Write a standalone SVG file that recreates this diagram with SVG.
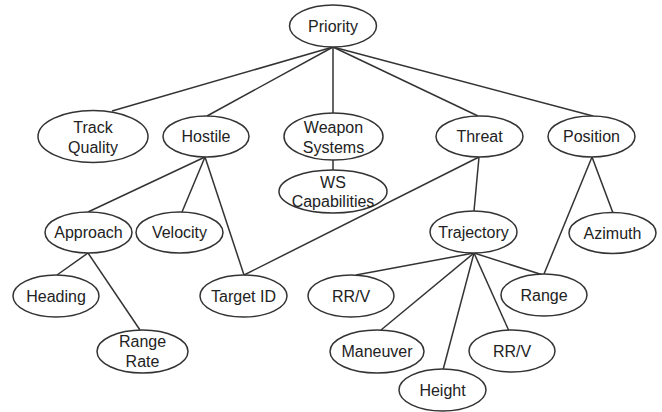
<svg xmlns="http://www.w3.org/2000/svg" width="662" height="412" viewBox="0 0 662 412">
<style>
.n ellipse{fill:#fff;stroke:#333;stroke-width:1.5}
.n text{font-family:"Liberation Sans",Arial,sans-serif;font-size:16px;fill:#222;text-anchor:middle}
#connectors line{stroke:#333;stroke-width:1.5}
</style>
<rect width="662" height="412" fill="#fff"/>
<g id="connectors">
<line x1="333" y1="47" x2="112" y2="111"/>
<line x1="333" y1="47" x2="207" y2="116"/>
<line x1="333" y1="47" x2="333" y2="113"/>
<line x1="333" y1="47" x2="478" y2="116"/>
<line x1="333" y1="47" x2="593" y2="116"/>
<line x1="333" y1="160" x2="333" y2="170"/>
<line x1="205" y1="157" x2="88" y2="212"/>
<line x1="205" y1="157" x2="182" y2="212"/>
<line x1="205" y1="157" x2="244" y2="275"/>
<line x1="479" y1="157" x2="244" y2="275"/>
<line x1="479" y1="157" x2="474" y2="211"/>
<line x1="592" y1="157" x2="544" y2="274"/>
<line x1="592" y1="157" x2="613" y2="213"/>
<line x1="88" y1="253" x2="57" y2="275"/>
<line x1="88" y1="253" x2="140" y2="330"/>
<line x1="474" y1="253" x2="356" y2="275"/>
<line x1="474" y1="253" x2="543" y2="275"/>
<line x1="474" y1="253" x2="381" y2="330"/>
<line x1="474" y1="253" x2="443" y2="370"/>
<line x1="474" y1="253" x2="509" y2="331"/>
</g>
<g id="priority" class="n"><ellipse cx="333" cy="26" rx="43.5" ry="21"/><text x="333" y="31.5">Priority</text></g>
<g id="track-quality" class="n"><ellipse cx="93" cy="136.5" rx="55" ry="26"/><text x="93" y="132.5">Track</text><text x="93" y="152.5">Quality</text></g>
<g id="hostile" class="n"><ellipse cx="206" cy="136.5" rx="43" ry="20.5"/><text x="206" y="142">Hostile</text></g>
<g id="weapon-systems" class="n"><ellipse cx="333.5" cy="136.5" rx="49.5" ry="23.5"/><text x="333.5" y="132.5">Weapon</text><text x="333.5" y="152.5">Systems</text></g>
<g id="ws-capabilities" class="n"><ellipse cx="333" cy="191.5" rx="54" ry="21.5"/><text x="333" y="188">WS</text><text x="333" y="206.5">Capabilities</text></g>
<g id="threat" class="n"><ellipse cx="479.5" cy="136.5" rx="43.5" ry="20.5"/><text x="479.5" y="142">Threat</text></g>
<g id="position" class="n"><ellipse cx="591.5" cy="136.5" rx="43.5" ry="20.5"/><text x="591.5" y="142">Position</text></g>
<g id="approach" class="n"><ellipse cx="88.5" cy="232.5" rx="43.5" ry="20.5"/><text x="88.5" y="237.5">Approach</text></g>
<g id="velocity" class="n"><ellipse cx="179.5" cy="232.5" rx="43.5" ry="20.5"/><text x="179.5" y="238">Velocity</text></g>
<g id="trajectory" class="n"><ellipse cx="473.5" cy="232" rx="43.5" ry="21"/><text x="473.5" y="237.5">Trajectory</text></g>
<g id="azimuth" class="n"><ellipse cx="612.5" cy="233" rx="43.5" ry="20.5"/><text x="612.5" y="238.5">Azimuth</text></g>
<g id="heading" class="n"><ellipse cx="56" cy="296" rx="43" ry="21"/><text x="56" y="301.5">Heading</text></g>
<g id="target-id" class="n"><ellipse cx="243.5" cy="296" rx="43.5" ry="21"/><text x="243.5" y="301.5">Target ID</text></g>
<g id="rrv-1" class="n"><ellipse cx="351" cy="296" rx="43" ry="21"/><text x="351" y="301.5">RR/V</text></g>
<g id="range" class="n"><ellipse cx="544" cy="295" rx="43" ry="21"/><text x="544" y="300.5">Range</text></g>
<g id="range-rate" class="n"><ellipse cx="142.5" cy="351.5" rx="45.5" ry="21.5"/><text x="142.5" y="346.5">Range</text><text x="142.5" y="366.5">Rate</text></g>
<g id="maneuver" class="n"><ellipse cx="377" cy="351.5" rx="47" ry="21.5"/><text x="377" y="357">Maneuver</text></g>
<g id="rrv-2" class="n"><ellipse cx="512" cy="351" rx="43" ry="21"/><text x="512" y="356.5">RR/V</text></g>
<g id="height" class="n"><ellipse cx="442.5" cy="390" rx="43.5" ry="21"/><text x="442.5" y="395.5">Height</text></g>
</svg>
